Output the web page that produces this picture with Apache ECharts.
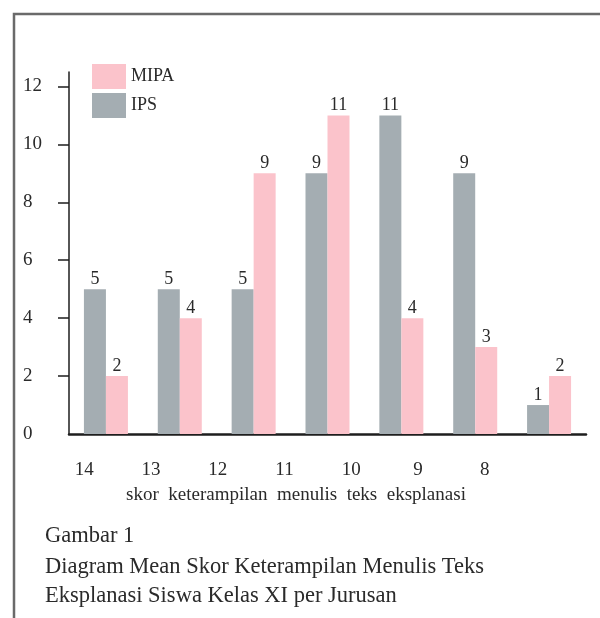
<!DOCTYPE html>
<html lang="id">
<head>
<meta charset="UTF-8">
<title>Diagram Mean Skor</title>
<style>
  html, body { margin: 0; padding: 0; background: #fff; }
  #chart { width: 600px; height: 618px; }
</style>
</head>
<body>
<div id="chart"></div>
<script src="https://cdn.jsdelivr.net/npm/echarts@6/dist/echarts.min.js"></script>
<script>
// skor keterampilan menulis teks eksplanasi
const categories = ['14', '13', '12', '11', '10', '9', '8'];
const ipsValues = [5, 5, 5, 9, 11, 9, 1];
const mipaValues = [2, 4, 9, 11, 4, 3, 2];
const yTicks = [2, 4, 6, 8, 10, 12];
const yLabels = [0, 2, 4, 6, 8, 10, 12];

const serif = '"Liberation Serif", "Times New Roman", serif';
const pink = '#fbc3cb';
const grey = '#a4adb2';

const chart = echarts.init(document.getElementById('chart'));

const valueLabel = {
  show: true,
  position: 'top',
  distance: 1,
  fontFamily: serif,
  fontSize: 18,
  color: '#2a2a2a'
};

chart.setOption({
  animation: false,
  legend: {
    data: ['MIPA', 'IPS'],
    orient: 'vertical',
    left: 92,
    top: 64,
    padding: 0,
    itemWidth: 34,
    itemHeight: 25,
    itemGap: 4,
    icon: 'rect',
    textStyle: { fontFamily: serif, fontSize: 18, color: '#2a2a2a' }
  },
  grid: [
    { left: 69, right: 14, top: 72, bottom: 184 },
    { left: 51, right: 82, top: 72, bottom: 184 }
  ],
  xAxis: [
    {
      type: 'category',
      gridIndex: 0,
      data: categories,
      axisLine: { lineStyle: { color: '#1e1e1e', width: 2.5 } },
      axisTick: { show: false },
      axisLabel: { show: false }
    },
    {
      type: 'category',
      gridIndex: 1,
      data: categories,
      axisLine: { show: false },
      axisTick: { show: false },
      axisLabel: { margin: 27, fontFamily: serif, fontSize: 19, color: '#2a2a2a' }
    }
  ],
  yAxis: [
    {
      type: 'value',
      gridIndex: 0,
      min: 0,
      max: 12.5,
      interval: 2,
      splitLine: { show: false },
      axisLine: { show: true, lineStyle: { color: '#1e1e1e', width: 1.5 } },
      axisTick: { show: true, length: 11, customValues: yTicks, lineStyle: { color: '#1e1e1e', width: 1.5 } },
      axisLabel: {
        customValues: yLabels,
        align: 'left',
        margin: 46,
        fontFamily: serif,
        fontSize: 19,
        color: '#2a2a2a'
      }
    },
    {
      type: 'value',
      gridIndex: 1,
      min: 0,
      max: 12.5,
      show: false
    }
  ],
  series: [
    {
      name: 'IPS',
      type: 'bar',
      xAxisIndex: 0,
      yAxisIndex: 0,
      data: ipsValues,
      barWidth: 22,
      barGap: '0%',
      itemStyle: { color: grey },
      label: valueLabel
    },
    {
      name: 'MIPA',
      type: 'bar',
      xAxisIndex: 0,
      yAxisIndex: 0,
      data: mipaValues,
      barWidth: 22,
      barGap: '0%',
      itemStyle: { color: pink },
      label: valueLabel
    }
  ],
  graphic: [
    {
      type: 'rect',
      shape: { x: 14, y: 14, width: 700, height: 700 },
      style: { fill: 'none', stroke: '#6a6a6a', lineWidth: 2.5 },
      silent: true
    },
    {
      type: 'text',
      x: 296, y: 495,
      style: { text: 'skor  keterampilan  menulis  teks  eksplanasi', font: '19px ' + serif, fill: '#2a2a2a', align: 'center', verticalAlign: 'middle' }
    },
    {
      type: 'text',
      x: 45, y: 536,
      style: { text: 'Gambar 1', font: '22.5px ' + serif, fill: '#2a2a2a', align: 'left', verticalAlign: 'middle' }
    },
    {
      type: 'text',
      x: 45, y: 567,
      style: { text: 'Diagram Mean Skor Keterampilan Menulis Teks', font: '22.5px ' + serif, fill: '#2a2a2a', align: 'left', verticalAlign: 'middle' }
    },
    {
      type: 'text',
      x: 45, y: 596,
      style: { text: 'Eksplanasi Siswa Kelas XI per Jurusan', font: '22.5px ' + serif, fill: '#2a2a2a', align: 'left', verticalAlign: 'middle' }
    }
  ]
});
</script>
</body>
</html>
